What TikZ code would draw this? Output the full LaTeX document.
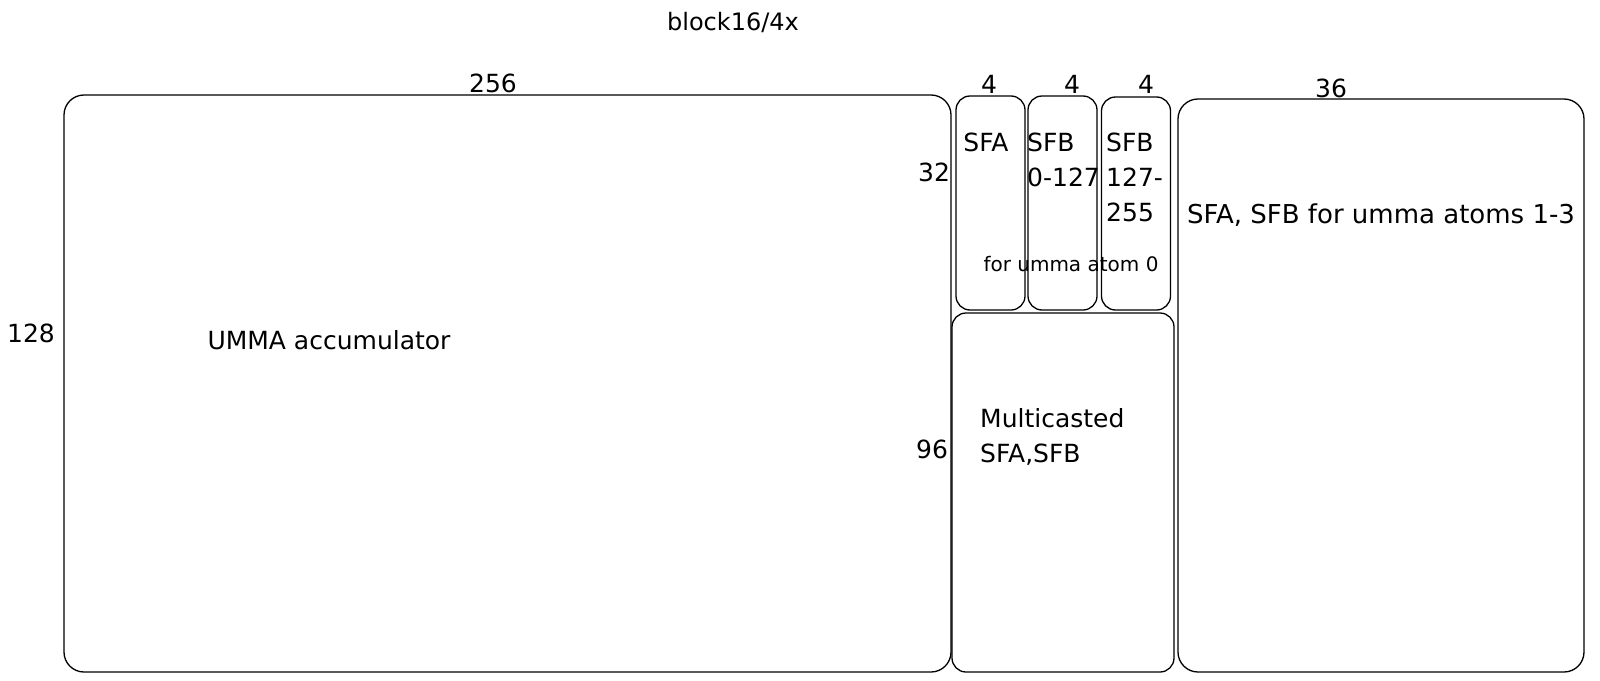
\documentclass[tikz,border=0pt]{standalone}
\usepackage{fontspec}
\setmainfont{DejaVu Sans}
\usepackage{tikz}

\begin{document}
\begin{tikzpicture}[x=1pt, y=-1pt,
    box/.style={draw, line width=1.3pt, rounded corners=14pt, inner sep=0pt},
    bigbox/.style={box, rounded corners=20pt},
    lbl/.style={font=\fontsize{25}{35}\selectfont, inner sep=0pt},
    smalllbl/.style={font=\fontsize{20}{24}\selectfont, inner sep=0pt}]
  \useasboundingbox (0,0) rectangle (1600,680);
  %--- Boxes
  \node[bigbox, minimum width=887, minimum height=577] (acc)   at (507.5,383.5) {};
  \node[box,    minimum width=69,  minimum height=214] (sfa)   at (990.5,203) {};
  \node[box,    minimum width=69,  minimum height=214] (sfbl)  at (1062.5,203) {};
  \node[box,    minimum width=69,  minimum height=213] (sfbh)  at (1136,203.5) {};
  \node[box,    minimum width=222, minimum height=359] (multi) at (1063,492.5) {};
  \node[bigbox, minimum width=406, minimum height=573] (rest)  at (1381,385.5) {};
  %--- Sizes
  \node[lbl, font=\fontsize{24}{28}\selectfont] (title) at (733,22) {block16/4x};
  \node[lbl] (w256) at (493,83) {256};
  \node[lbl] (w4a)  at (989,84) {4};
  \node[lbl] (w4b)  at (1072,84) {4};
  \node[lbl] (w4c)  at (1146,84) {4};
  \node[lbl] (w36)  at (1331,88) {36};
  \node[lbl] (h128) at (31,333) {128};
  \node[lbl] (h32)  at (934,172) {32};
  \node[lbl] (h96)  at (932,449) {96};
  %--- Contents
  \node[lbl] (acctxt) at (329,340) {UMMA accumulator};
  \node[lbl] (sfatxt) at (986,142) {SFA};
  \node[lbl, align=left, anchor=north west] (sfbltxt) at (1027,133) {SFB\\0-127};
  \node[lbl, align=left, anchor=north west] (sfbhtxt) at (1106,133) {SFB\\127-\\255};
  \node[smalllbl] (atom0) at (1071,264) {for umma atom 0};
  \node[lbl, align=left, anchor=west] (multitxt) at (980,437) {Multicasted\\SFA,SFB};
  \node[lbl, font=\fontsize{26}{32}\selectfont] (resttxt) at (1381,215) {SFA, SFB for umma atoms 1-3};
\end{tikzpicture}
\end{document}
